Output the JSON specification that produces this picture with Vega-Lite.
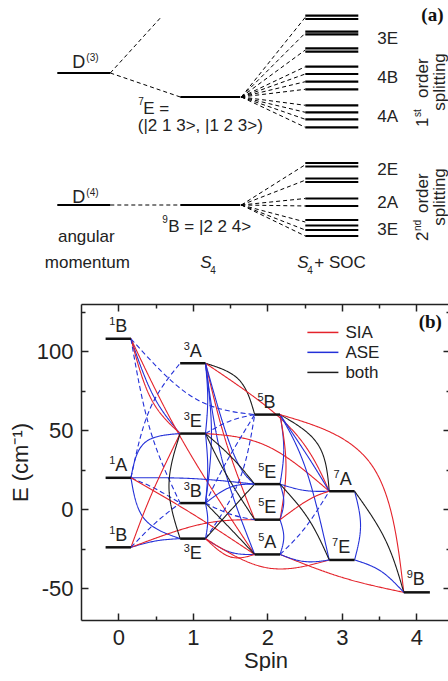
{
  "$schema": "https://vega.github.io/schema/vega-lite/v6.json",
  "padding": {"left": 9, "top": 0, "right": 0, "bottom": 0},
  "spacing": 13,
  "config": {"font": "Liberation Sans", "view": {"stroke": null}},
  "resolve": {"legend": {"color": "independent", "strokeDash": "independent"}},
  "datasets": {
    "aLevels": [
      {"x": 57, "xb": 110, "y": 73}, {"x": 180, "xb": 240, "y": 97},
      {"x": 305, "xb": 358, "y": 15.7}, {"x": 305, "xb": 358, "y": 19}, {"x": 305, "xb": 358, "y": 31.7}, {"x": 305, "xb": 358, "y": 34.3},
      {"x": 305, "xb": 358, "y": 48.3}, {"x": 305, "xb": 358, "y": 51.7}, {"x": 305, "xb": 358, "y": 66.7}, {"x": 305, "xb": 358, "y": 74},
      {"x": 305, "xb": 358, "y": 81.7}, {"x": 305, "xb": 358, "y": 89.3}, {"x": 305, "xb": 358, "y": 105.3}, {"x": 305, "xb": 358, "y": 112.3},
      {"x": 305, "xb": 358, "y": 119.3}, {"x": 305, "xb": 358, "y": 127.3},
      {"x": 57, "xb": 110, "y": 205}, {"x": 180, "xb": 240, "y": 205},
      {"x": 305, "xb": 358, "y": 163}, {"x": 305, "xb": 358, "y": 166.5}, {"x": 305, "xb": 358, "y": 178.5}, {"x": 305, "xb": 358, "y": 182},
      {"x": 305, "xb": 358, "y": 198.5}, {"x": 305, "xb": 358, "y": 206}, {"x": 305, "xb": 358, "y": 220}, {"x": 305, "xb": 358, "y": 225.5},
      {"x": 305, "xb": 358, "y": 230}, {"x": 305, "xb": 358, "y": 236}
    ],
    "aDash": [
      {"x": 110, "y": 73, "xb": 160, "yb": 18}, {"x": 110, "y": 73, "xb": 180, "yb": 97}, {"x": 110, "y": 205, "xb": 180, "yb": 205},
      {"x": 241, "y": 97, "xb": 305, "yb": 17.3}, {"x": 241, "y": 97, "xb": 305, "yb": 33}, {"x": 241, "y": 97, "xb": 305, "yb": 50},
      {"x": 241, "y": 97, "xb": 305, "yb": 66.7}, {"x": 241, "y": 97, "xb": 305, "yb": 74}, {"x": 241, "y": 97, "xb": 305, "yb": 81.7},
      {"x": 241, "y": 97, "xb": 305, "yb": 89.3}, {"x": 241, "y": 97, "xb": 305, "yb": 105.3}, {"x": 241, "y": 97, "xb": 305, "yb": 112.3},
      {"x": 241, "y": 97, "xb": 305, "yb": 119.3}, {"x": 241, "y": 97, "xb": 305, "yb": 127.3},
      {"x": 241, "y": 205, "xb": 305, "yb": 164.7}, {"x": 241, "y": 205, "xb": 305, "yb": 180.2}, {"x": 241, "y": 205, "xb": 305, "yb": 198.5},
      {"x": 241, "y": 205, "xb": 305, "yb": 206}, {"x": 241, "y": 205, "xb": 305, "yb": 222}, {"x": 241, "y": 205, "xb": 305, "yb": 230},
      {"x": 241, "y": 205, "xb": 305, "yb": 236}
    ],
    "aTextLeft": [
      {"x": 143, "y": 114, "t": "E ="}, {"x": 168, "y": 232, "t": "B = |2 2 4>"},
      {"x": 377, "y": 44, "t": "3E"}, {"x": 377, "y": 83, "t": "4B"}, {"x": 377, "y": 122, "t": "4A"},
      {"x": 377, "y": 175, "t": "2E"}, {"x": 377, "y": 208, "t": "2A"}, {"x": 377, "y": 235, "t": "3E"},
      {"x": 314, "y": 268, "t": "+ SOC"}
    ],
    "aTextD": [{"x": 72, "y": 68, "t": "D"}, {"x": 72, "y": 203, "t": "D"}],
    "aTextCenter": [
      {"x": 200, "y": 131, "t": "(|2 1 3>, |1 2 3>)"}, {"x": 86, "y": 242, "t": "angular"}, {"x": 87, "y": 268, "t": "momentum"}
    ],
    "aSup": [
      {"x": 86, "y": 61, "t": "(3)"}, {"x": 86, "y": 196, "t": "(4)"}, {"x": 138, "y": 105, "t": "7"}, {"x": 162, "y": 223, "t": "9"}
    ],
    "aItal": [{"x": 200, "y": 268, "t": "S"}, {"x": 297, "y": 268, "t": "S"}],
    "aSub": [{"x": 210, "y": 274, "t": "4"}, {"x": 307, "y": 274, "t": "4"}],
    "aRot": [
      {"x": 428, "y": 127, "t": "1"}, {"x": 428, "y": 98, "t": "order"},
      {"x": 428, "y": 241, "t": "2"}, {"x": 428, "y": 213, "t": "order"}
    ],
    "aRotSup": [{"x": 421, "y": 117, "t": "st"}, {"x": 421, "y": 231, "t": "nd"}],
    "aRotC": [{"x": 445, "y": 82, "t": "splitting"}, {"x": 445, "y": 197, "t": "splitting"}],
    "aBold": [{"x": 421, "y": 21, "t": "(a)"}],
    "levels": [
      {"S": -0.17, "S1": 0.17, "E": 108}, {"S": -0.17, "S1": 0.17, "E": 20}, {"S": -0.17, "S1": 0.17, "E": -24},
      {"S": 0.83, "S1": 1.17, "E": 92.5}, {"S": 0.83, "S1": 1.17, "E": 48}, {"S": 0.83, "S1": 1.17, "E": 4}, {"S": 0.83, "S1": 1.17, "E": -18.5},
      {"S": 1.83, "S1": 2.17, "E": 60}, {"S": 1.83, "S1": 2.17, "E": 16}, {"S": 1.83, "S1": 2.17, "E": -6.5}, {"S": 1.83, "S1": 2.17, "E": -28.5},
      {"S": 2.83, "S1": 3.17, "E": 11.5}, {"S": 2.83, "S1": 3.17, "E": -32},
      {"S": 3.83, "S1": 4.18, "E": -52.5}
    ],
    "labels": [
      {"S": 0.04, "E": 112.1, "l": "B", "s": "1"}, {"S": 0.04, "E": 24.1, "l": "A", "s": "1"}, {"S": 0.04, "E": -19.9, "l": "B", "s": "1"},
      {"S": 1.04, "E": 96.6, "l": "A", "s": "3"}, {"S": 1.04, "E": 52.1, "l": "E", "s": "3"}, {"S": 1.04, "E": 8.1, "l": "B", "s": "3"},
      {"S": 1.04, "E": -31.2, "l": "E", "s": "3"},
      {"S": 2.03, "E": 64.1, "l": "B", "s": "5"}, {"S": 2.04, "E": 20.1, "l": "E", "s": "5"}, {"S": 2.04, "E": -2.4, "l": "E", "s": "5"},
      {"S": 2.04, "E": -24.4, "l": "A", "s": "5"},
      {"S": 3.05, "E": 15.6, "l": "A", "s": "7"}, {"S": 3.03, "E": -27.5, "l": "E", "s": "7"},
      {"S": 4.03, "E": -48, "l": "B", "s": "9"}
    ],
    "legendRows": [
      {"t": "SIA", "S": 2.537, "S1": 2.953, "E": 112.0, "St": 3.047, "Et": 108.2},
      {"t": "ASE", "S": 2.537, "S1": 2.953, "E": 99.4, "St": 3.047, "Et": 95.6},
      {"t": "both", "S": 2.537, "S1": 2.953, "E": 86.7, "St": 3.047, "Et": 82.9}
    ],
    "bTag": [{"S": 4.03, "E": 114.6, "t": "(b)"}],
    "curves": [
      {"id": "c1", "t": "ASE", "ls": "s", "S": [0.17, 0.47, 0.83], "E": [108, 72, 48], "p": [0, 1, 2]},
      {"id": "c2", "t": "SIA", "ls": "s", "S": [0.17, 0.44, 0.83], "E": [108, 70, 48], "p": [0, 1, 2]},
      {"id": "c3", "t": "SIA", "ls": "s", "S": [0.17, 0.88, 1.83], "E": [108, 42, -28.5], "p": [0, 1, 2]},
      {"id": "c4", "t": "ASE", "ls": "d", "S": [0.17, 1.0, 1.83], "E": [108, 71, 60], "p": [0, 1, 2]},
      {"id": "c5", "t": "ASE", "ls": "d", "S": [0.17, 0.43, 0.83], "E": [108, 50, 4], "p": [0, 1, 2]},
      {"id": "c6", "t": "ASE", "ls": "d", "S": [0.17, 0.42, 0.83], "E": [20, 63, 92.5], "p": [0, 1, 2]},
      {"id": "c7", "t": "ASE", "ls": "s", "S": [0.17, 0.35, 0.83], "E": [20, 42, 48], "p": [0, 1, 2]},
      {"id": "c8", "t": "ASE", "ls": "s", "S": [0.17, 0.35, 0.83], "E": [20, -6, -18.5], "p": [0, 1, 2]},
      {"id": "c9", "t": "ASE", "ls": "s", "S": [0.17, 1.0, 1.83], "E": [20, 19.5, 16], "p": [0, 1, 2]},
      {"id": "c10", "t": "ASE", "ls": "d", "S": [0.17, 0.5, 0.83], "E": [20, 13, 4], "p": [0, 1, 2]},
      {"id": "c11", "t": "SIA", "ls": "s", "S": [0.17, 1.0, 1.83], "E": [20, -3, -28.5], "p": [0, 1, 2]},
      {"id": "c12", "t": "SIA", "ls": "s", "S": [0.17, 0.45, 0.83], "E": [-24, 10, 48], "p": [0, 1, 2]},
      {"id": "c13", "t": "ASE", "ls": "s", "S": [0.17, 0.5, 0.83], "E": [-24, -20, -18.5], "p": [0, 1, 2]},
      {"id": "c14", "t": "SIA", "ls": "s", "S": [0.17, 1.1, 1.83], "E": [-24, -9.5, -6.5], "p": [0, 1, 2]},
      {"id": "c15", "t": "ASE", "ls": "d", "S": [0.17, 0.5, 0.83], "E": [-24, -8.5, 4], "p": [0, 1, 2]},
      {"id": "c16", "t": "both", "ls": "s", "S": [0.83, 0.68, 0.83], "E": [48, 14.75, -18.5], "p": [0, 1, 2]},
      {"id": "c17", "t": "ASE", "ls": "s", "S": [1.17, 1.2, 1.17], "E": [92.5, 70, 48], "p": [0, 1, 2]},
      {"id": "c18", "t": "ASE", "ls": "s", "S": [1.17, 1.25, 1.17], "E": [92.5, 48, 4], "p": [0, 1, 2]},
      {"id": "c19", "t": "both", "ls": "s", "S": [1.17, 1.62, 1.83], "E": [92.5, 82, 60], "p": [0, 1, 2]},
      {"id": "c20", "t": "SIA", "ls": "s", "S": [1.17, 2.3, 2.83], "E": [92.5, 52, 11.5], "p": [0, 1, 2]},
      {"id": "c21", "t": "SIA", "ls": "s", "S": [1.17, 1.45, 1.83], "E": [92.5, 42, -6.5], "p": [0, 1, 2]},
      {"id": "c22", "t": "ASE", "ls": "s", "S": [1.17, 1.4, 1.83], "E": [92.5, 30, -28.5], "p": [0, 1, 2]},
      {"id": "c23", "t": "ASE", "ls": "s", "S": [1.17, 1.54, 1.83], "E": [92.5, 36, 16], "p": [0, 1, 2]},
      {"id": "c24", "t": "both", "ls": "s", "S": [1.17, 1.52, 1.83], "E": [48, 33, 16], "p": [0, 1, 2]},
      {"id": "c25", "t": "both", "ls": "s", "S": [1.17, 1.45, 1.83], "E": [48, 22, -6.5], "p": [0, 1, 2]},
      {"id": "c26", "t": "SIA", "ls": "s", "S": [1.17, 2.0, 2.83], "E": [48, 40, 11.5], "p": [0, 1, 2]},
      {"id": "c27", "t": "ASE", "ls": "d", "S": [1.17, 1.5, 1.83], "E": [48, 56, 60], "p": [0, 1, 2]},
      {"id": "c28", "t": "ASE", "ls": "d", "S": [1.17, 1.45, 1.83], "E": [4, 30, 60], "p": [0, 1, 2]},
      {"id": "c29", "t": "ASE", "ls": "d", "S": [1.17, 1.62, 1.83], "E": [-18.5, 18, 60], "p": [0, 1, 2]},
      {"id": "c30", "t": "both", "ls": "s", "S": [1.17, 1.5, 1.83], "E": [4, -12, -28.5], "p": [0, 1, 2]},
      {"id": "c31", "t": "both", "ls": "s", "S": [1.17, 1.5, 1.83], "E": [-18.5, -1, 16], "p": [0, 1, 2]},
      {"id": "c32", "t": "ASE", "ls": "s", "S": [1.17, 1.5, 1.83], "E": [4, 14, 16], "p": [0, 1, 2]},
      {"id": "c33", "t": "ASE", "ls": "d", "S": [1.17, 1.5, 1.83], "E": [4, -3, -6.5], "p": [0, 1, 2]},
      {"id": "c34", "t": "ASE", "ls": "s", "S": [1.17, 1.5, 1.83], "E": [-18.5, -27, -28.5], "p": [0, 1, 2]},
      {"id": "c35", "t": "SIA", "ls": "s", "S": [1.17, 2.0, 2.83], "E": [-18.5, -37, -32], "p": [0, 1, 2]},
      {"id": "c36", "t": "ASE", "ls": "s", "S": [1.17, 1.2, 1.17], "E": [48, 26, 4], "p": [0, 1, 2]},
      {"id": "c37", "t": "ASE", "ls": "s", "S": [1.17, 1.2, 1.17], "E": [4, -7, -18.5], "p": [0, 1, 2]},
      {"id": "c38", "t": "ASE", "ls": "s", "S": [2.17, 2.22, 2.17], "E": [60, 38, 16], "p": [0, 1, 2]},
      {"id": "c39", "t": "SIA", "ls": "s", "S": [2.17, 2.25, 2.17], "E": [60, 27, -6.5], "p": [0, 1, 2]},
      {"id": "c40", "t": "ASE", "ls": "s", "S": [2.17, 2.22, 2.17], "E": [16, 5, -6.5], "p": [0, 1, 2]},
      {"id": "c41", "t": "ASE", "ls": "s", "S": [2.17, 2.22, 2.17], "E": [-6.5, -17.5, -28.5], "p": [0, 1, 2]},
      {"id": "c42", "t": "both", "ls": "s", "S": [2.17, 2.68, 2.83], "E": [60, 41, 11.5], "p": [0, 1, 2]},
      {"id": "c43", "t": "ASE", "ls": "s", "S": [2.17, 2.55, 2.83], "E": [60, 33, 11.5], "p": [0, 1, 2]},
      {"id": "c44", "t": "ASE", "ls": "s", "S": [2.17, 2.52, 2.83], "E": [60, 25, -32], "p": [0, 1, 2]},
      {"id": "c45", "t": "SIA", "ls": "s", "S": [2.17, 3.4, 3.83], "E": [60, 28, -52.5], "p": [0, 1, 2]},
      {"id": "c46", "t": "ASE", "ls": "s", "S": [2.17, 2.5, 2.83], "E": [16, 12, 11.5], "p": [0, 1, 2]},
      {"id": "c47", "t": "both", "ls": "s", "S": [2.17, 2.55, 2.83], "E": [16, -6, -32], "p": [0, 1, 2]},
      {"id": "c48", "t": "SIA", "ls": "s", "S": [2.17, 2.55, 2.83], "E": [-6.5, 6, 11.5], "p": [0, 1, 2]},
      {"id": "c49", "t": "SIA", "ls": "s", "S": [2.17, 3.0, 3.83], "E": [-28.5, -43, -52.5], "p": [0, 1, 2]},
      {"id": "c50", "t": "ASE", "ls": "s", "S": [2.17, 2.5, 2.83], "E": [-28.5, -33, -32], "p": [0, 1, 2]},
      {"id": "c51", "t": "ASE", "ls": "d", "S": [2.17, 2.5, 2.83], "E": [-28.5, -12, 11.5], "p": [0, 1, 2]},
      {"id": "c52", "t": "ASE", "ls": "s", "S": [3.17, 3.25, 3.17], "E": [11.5, -10.25, -32], "p": [0, 1, 2]},
      {"id": "c53", "t": "both", "ls": "s", "S": [3.17, 3.58, 3.83], "E": [11.5, -19, -52.5], "p": [0, 1, 2]},
      {"id": "c54", "t": "ASE", "ls": "s", "S": [3.17, 3.52, 3.83], "E": [-32, -39, -52.5], "p": [0, 1, 2]},
      {"id": "c55", "t": "SIA", "ls": "s", "S": [1.17, 1.5, 1.83], "E": [-18.5, -30, -28.5], "p": [0, 1, 2]}
    ]
  },
  "vconcat": [
    {
      "width": 369,
      "height": 290,
      "encoding": {
        "x": {"field": "x", "type": "quantitative", "scale": {"domain": [80.7, 449.7], "nice": false, "zero": false}, "axis": null},
        "y": {"field": "y", "type": "quantitative", "scale": {"domain": [0, 290], "reverse": true, "nice": false, "zero": false}, "axis": null}
      },
      "layer": [
        {"data": {"name": "aLevels"}, "mark": {"type": "rule", "strokeWidth": 2.2, "color": "black"}, "encoding": {"x2": {"field": "xb"}}},
        {"data": {"name": "aDash"}, "mark": {"type": "rule", "strokeWidth": 1, "strokeDash": [4, 3], "color": "black"}, "encoding": {"x2": {"field": "xb"}, "y2": {"field": "yb"}}},
        {"data": {"name": "aTextLeft"}, "mark": {"type": "text", "fontSize": 17, "align": "left", "baseline": "alphabetic", "color": "#222"}, "encoding": {"text": {"field": "t"}}},
        {"data": {"name": "aTextD"}, "mark": {"type": "text", "fontSize": 18, "align": "left", "baseline": "alphabetic", "color": "#222"}, "encoding": {"text": {"field": "t"}}},
        {"data": {"name": "aTextCenter"}, "mark": {"type": "text", "fontSize": 17, "align": "center", "baseline": "alphabetic", "color": "#222"}, "encoding": {"text": {"field": "t"}}},
        {"data": {"name": "aSup"}, "mark": {"type": "text", "fontSize": 10, "align": "left", "baseline": "alphabetic", "color": "#222"}, "encoding": {"text": {"field": "t"}}},
        {"data": {"name": "aItal"}, "mark": {"type": "text", "fontSize": 17, "fontStyle": "italic", "align": "left", "baseline": "alphabetic", "color": "#222"}, "encoding": {"text": {"field": "t"}}},
        {"data": {"name": "aSub"}, "mark": {"type": "text", "fontSize": 10, "align": "left", "baseline": "alphabetic", "color": "#222"}, "encoding": {"text": {"field": "t"}}},
        {"data": {"name": "aRot"}, "mark": {"type": "text", "fontSize": 17, "angle": 270, "align": "left", "baseline": "alphabetic", "color": "#222"}, "encoding": {"text": {"field": "t"}}},
        {"data": {"name": "aRotSup"}, "mark": {"type": "text", "fontSize": 10, "angle": 270, "align": "left", "baseline": "alphabetic", "color": "#222"}, "encoding": {"text": {"field": "t"}}},
        {"data": {"name": "aRotC"}, "mark": {"type": "text", "fontSize": 17, "angle": 270, "align": "center", "baseline": "alphabetic", "color": "#222"}, "encoding": {"text": {"field": "t"}}},
        {"data": {"name": "aBold"}, "mark": {"type": "text", "fontSize": 19, "font": "Liberation Serif", "fontWeight": "bold", "align": "left", "baseline": "alphabetic", "color": "#111"}, "encoding": {"text": {"field": "t"}}}
      ]
    },
    {
      "width": 369,
      "height": 316,
      "layer": [
        {
          "data": {"name": "curves"},
          "transform": [{"flatten": ["S", "E", "p"]}],
          "mark": {"type": "line", "interpolate": "natural", "strokeWidth": 1.1},
          "encoding": {
            "x": {"field": "S", "type": "quantitative", "scale": {"domain": [-0.5, 4.45], "nice": false, "zero": false}, "title": "Spin",
              "axis": {"orient": "bottom", "values": [0, 0.5, 1, 1.5, 2, 2.5, 3, 3.5, 4], "labelExpr": "datum.value % 1 === 0 ? '' + datum.value : ''",
                "tickSize": {"condition": {"test": "datum.value % 1 === 0", "value": -7}, "value": -4},
                "labelFontSize": 22, "labelPadding": 14, "labelColor": "#222", "titleFontSize": 22, "titleFontWeight": "normal", "titleColor": "#222", "titlePadding": 2,
                "domainColor": "#222", "domainWidth": 1.5, "tickColor": "#222", "tickWidth": 1.5, "grid": false}},
            "y": {"field": "E", "type": "quantitative", "scale": {"domain": [-70, 130], "nice": false, "zero": false}, "title": "E (cm⁻¹)",
              "axis": {"orient": "left", "values": [-50, -25, 0, 25, 50, 75, 100, 125], "labelExpr": "datum.value % 50 === 0 ? '' + datum.value : ''",
                "tickSize": {"condition": {"test": "datum.value % 50 === 0", "value": -7}, "value": -4},
                "labelFontSize": 22, "labelPadding": 15, "labelColor": "#222", "titleFontSize": 22, "titleFontWeight": "normal", "titleColor": "#222", "titlePadding": 4,
                "domainColor": "#222", "domainWidth": 1.5, "tickColor": "#222", "tickWidth": 1.5, "grid": false}},
            "detail": {"field": "id"},
            "order": {"field": "p"},
            "color": {"field": "t", "type": "nominal", "scale": {"domain": ["SIA", "ASE", "both"], "range": ["#e4232b", "#2330d8", "#1c1c1c"]}, "legend": null},
            "strokeDash": {"field": "ls", "type": "nominal", "scale": {"domain": ["s", "d"], "range": [[1, 0], [5, 3]]}, "legend": null}
          }
        },
        {
          "data": {"name": "levels"},
          "mark": {"type": "rule", "strokeWidth": 2.5, "color": "#111"},
          "encoding": {
            "x": {"field": "S", "type": "quantitative", "scale": {"domain": [-0.5, 4.45], "nice": false, "zero": false}, "title": null,
              "axis": {"orient": "top", "values": [0, 0.5, 1, 1.5, 2, 2.5, 3, 3.5, 4], "labels": false,
                "tickSize": {"condition": {"test": "datum.value % 1 === 0", "value": -7}, "value": -4},
                "domainColor": "#222", "domainWidth": 1.5, "tickColor": "#222", "tickWidth": 1.5, "grid": false}},
            "x2": {"field": "S1"},
            "y": {"field": "E", "type": "quantitative", "scale": {"domain": [-70, 130], "nice": false, "zero": false}, "title": null,
              "axis": {"orient": "right", "values": [-50, -25, 0, 25, 50, 75, 100, 125], "labels": false,
                "tickSize": {"condition": {"test": "datum.value % 50 === 0", "value": -7}, "value": -4},
                "domainColor": "#222", "domainWidth": 1.5, "tickColor": "#222", "tickWidth": 1.5, "grid": false}}
          }
        },
        {
          "data": {"name": "legendRows"},
          "mark": {"type": "rule", "strokeWidth": 1.5},
          "encoding": {
            "x": {"field": "S", "type": "quantitative", "scale": {"domain": [-0.5, 4.45], "nice": false, "zero": false}, "axis": null},
            "x2": {"field": "S1"},
            "y": {"field": "E", "type": "quantitative", "scale": {"domain": [-70, 130], "nice": false, "zero": false}, "axis": null},
            "color": {"field": "t", "type": "nominal", "scale": {"domain": ["SIA", "ASE", "both"], "range": ["#e4232b", "#2330d8", "#1c1c1c"]}, "legend": null}
          }
        },
        {
          "data": {"name": "legendRows"},
          "mark": {"type": "text", "fontSize": 17, "align": "left", "baseline": "alphabetic", "color": "#222"},
          "encoding": {
            "x": {"field": "St", "type": "quantitative", "scale": {"domain": [-0.5, 4.45], "nice": false, "zero": false}, "axis": null},
            "y": {"field": "Et", "type": "quantitative", "scale": {"domain": [-70, 130], "nice": false, "zero": false}, "axis": null},
            "text": {"field": "t"}
          }
        },
        {
          "data": {"name": "labels"},
          "mark": {"type": "text", "fontSize": 18, "align": "center", "baseline": "alphabetic", "color": "#222"},
          "encoding": {
            "x": {"field": "S", "type": "quantitative", "scale": {"domain": [-0.5, 4.45], "nice": false, "zero": false}, "axis": null},
            "y": {"field": "E", "type": "quantitative", "scale": {"domain": [-70, 130], "nice": false, "zero": false}, "axis": null},
            "text": {"field": "l"}
          }
        },
        {
          "data": {"name": "labels"},
          "mark": {"type": "text", "fontSize": 11, "align": "center", "baseline": "alphabetic", "dx": -9, "dy": -7, "color": "#222"},
          "encoding": {
            "x": {"field": "S", "type": "quantitative", "scale": {"domain": [-0.5, 4.45], "nice": false, "zero": false}, "axis": null},
            "y": {"field": "E", "type": "quantitative", "scale": {"domain": [-70, 130], "nice": false, "zero": false}, "axis": null},
            "text": {"field": "s"}
          }
        },
        {
          "data": {"name": "bTag"},
          "mark": {"type": "text", "fontSize": 19, "font": "Liberation Serif", "fontWeight": "bold", "align": "left", "baseline": "alphabetic", "color": "#111"},
          "encoding": {
            "x": {"field": "S", "type": "quantitative", "scale": {"domain": [-0.5, 4.45], "nice": false, "zero": false}, "axis": null},
            "y": {"field": "E", "type": "quantitative", "scale": {"domain": [-70, 130], "nice": false, "zero": false}, "axis": null},
            "text": {"field": "t"}
          }
        }
      ],
      "resolve": {"axis": {"x": "independent", "y": "independent"}}
    }
  ]
}
